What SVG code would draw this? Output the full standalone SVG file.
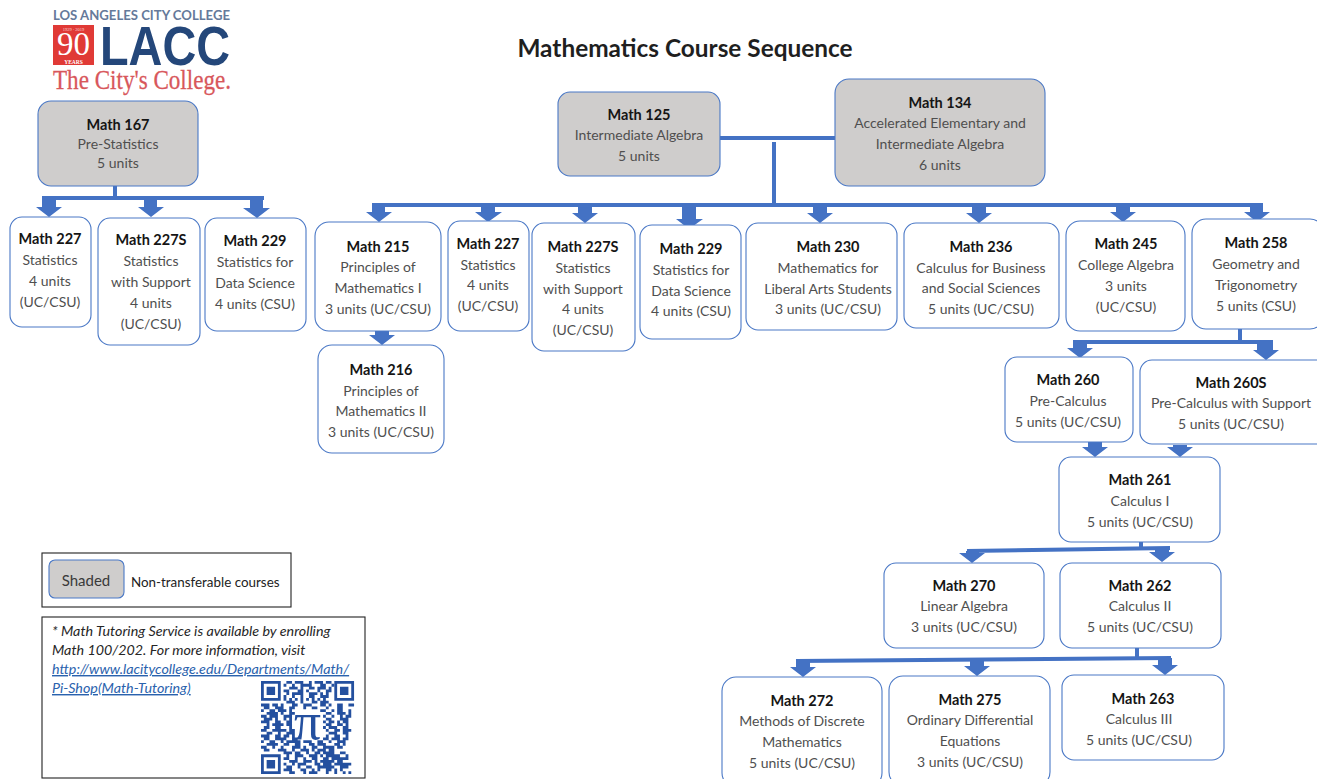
<svg xmlns="http://www.w3.org/2000/svg" width="1317" height="779" viewBox="0 0 1317 779">
<style>
text{font-family:Lato,"Open Sans","Liberation Sans",sans-serif}
.n rect{fill:#fff;stroke:#4a78c6;stroke-width:1.1}
.g rect{fill:#cfcdcc}
.n text,.c{text-anchor:middle}
.t{font-size:14.5px;font-weight:700;fill:#151515}
.d{font-size:14px;fill:#4f4f4f}
.cn path{fill:#4472c4}
.ln{fill:none;stroke:#4472c4}
.box{fill:#fff;stroke:#222;stroke-width:1.1}
.note{font-size:14.3px;font-style:italic;fill:#262626}
.link{fill:#2a62ad;text-decoration:underline}
</style>
<rect width="1317" height="779" fill="#fff"/>
<text class="c" x="685" y="57" font-size="24.4" font-weight="700" fill="#1f1f1f">Mathematics Course Sequence</text>
<g id="logo">
<text x="53" y="20" font-size="12.5" font-weight="700" fill="#65799a" textLength="177" lengthAdjust="spacingAndGlyphs">LOS ANGELES CITY COLLEGE</text>
<rect x="53" y="25" width="41" height="40" fill="#e03a36"/>
<text class="c" x="73.500" y="31" font-size="4.500" fill="#fbdcd8" style="font-family:'Liberation Serif',serif">1929 · 2019</text>
<text class="c" x="73.500" y="55" font-size="33" fill="#fff" style="font-family:'Liberation Serif',serif">90</text>
<text class="c" x="73.500" y="63.500" font-size="5.500" font-weight="700" fill="#fff" style="font-family:'Liberation Serif',serif">YEARS</text>
<text x="100" y="65" font-size="56" font-weight="700" fill="#24477a" style="font-family:'Liberation Sans',sans-serif" textLength="130" lengthAdjust="spacingAndGlyphs">LACC</text>
<text x="53" y="89" font-size="28" fill="#d8575b" stroke="#d8575b" stroke-width=".3" style="font-family:'Liberation Serif',serif" textLength="178" lengthAdjust="spacingAndGlyphs">The City's College.</text>
</g>
<g id="connectors" class="cn">
<path class="ln" stroke-width="4" d="M115 186V198M42 198H264"/>
<path d="M42 198h14v9h6l-13 10-13-10h6z"/>
<path d="M144 198h13v9h7l-13 10-13-10h6z"/>
<path d="M250 198h13v10h7l-13 10-14-10h7z"/>
<path class="ln" stroke-width="4" d="M720 138H835M774 142V205M372 205H1263"/>
<path d="M372 205h13v7h7l-13 10-13-10h6z"/>
<path d="M481 205h14v7h7l-14 10-13-10h6z"/>
<path d="M578 205h14v8h6l-13 10-13-10h6z"/>
<path d="M682 205h14v14h7l-14 10-13-10h6z"/>
<path d="M813 205h14v8h6l-13 10-13-10h6z"/>
<path d="M972 205h14v8h6l-13 10-13-10h6z"/>
<path d="M1116 205h14v7h6l-13 10-13-10h6z"/>
<path d="M1250 205h13v7h7l-13 10-13-10h6z"/>
<path d="M375 331h14v4h6l-13 10-13-10h6z"/>
<path class="ln" stroke-width="4" d="M1240 329V342M1073 342H1273"/>
<path d="M1073 341h14v7h6l-13 10-13-10h6z"/>
<path d="M1257 340h16v10h6l-13 10-13-10h4z"/>
<path d="M1088 442h14v5h6l-13 10-13-10h6z"/>
<path d="M1173 445h14v2h6l-13 10-13-10h6z"/>
<path class="ln" stroke-width="4" d="M1141 542V549M967 551L1170 548"/>
<path d="M966 551h13v2h6l-13 10-13-10h7z"/>
<path d="M1155 548h14v4h6l-13 10-13-10h6z"/>
<path class="ln" stroke-width="4" d="M1137 648V660M796 661L1171 658"/>
<path d="M796 660h14v7h6l-13 10-13-10h6z"/>
<path d="M970 659h14v7h6l-13 10-13-10h6z"/>
<path d="M1158 658h14v7h6l-13 10-13-10h6z"/>
</g>
<g id="m167" class="n g"><rect x="38" y="101" width="160" height="85" rx="13"/><text class="t" x="118" y="130">Math 167</text><text class="d" x="118" y="149">Pre-Statistics</text><text class="d" x="118" y="168">5 units</text></g>
<g id="m227a" class="n"><rect x="10" y="217" width="81" height="110" rx="12"/><text class="t" x="50" y="244">Math 227</text><text class="d" x="50" y="265">Statistics</text><text class="d" x="50" y="286">4 units</text><text class="d" x="50" y="307">(UC/CSU)</text></g>
<g id="m227sa" class="n"><rect x="98" y="218" width="102" height="127" rx="12"/><text class="t" x="151" y="245">Math 227S</text><text class="d" x="151" y="266">Statistics</text><text class="d" x="151" y="287">with Support</text><text class="d" x="151" y="308">4 units</text><text class="d" x="151" y="329">(UC/CSU)</text></g>
<g id="m229a" class="n"><rect x="205" y="218" width="101" height="113" rx="12"/><text class="t" x="255" y="246">Math 229</text><text class="d" x="255" y="267">Statistics for</text><text class="d" x="255" y="288">Data Science</text><text class="d" x="255" y="309">4 units (CSU)</text></g>
<g id="m125" class="n g"><rect x="558" y="92" width="162" height="84" rx="12"/><text class="t" x="639" y="120">Math 125</text><text class="d" x="639" y="140">Intermediate Algebra</text><text class="d" x="639" y="161">5 units</text></g>
<g id="m134" class="n g"><rect x="835" y="79" width="210" height="107" rx="14"/><text class="t" x="940" y="108">Math 134</text><text class="d" x="940" y="128">Accelerated Elementary and</text><text class="d" x="940" y="149">Intermediate Algebra</text><text class="d" x="940" y="170">6 units</text></g>
<g id="m215" class="n"><rect x="315" y="222" width="126" height="109" rx="14"/><text class="t" x="378" y="252">Math 215</text><text class="d" x="378" y="272">Principles of</text><text class="d" x="378" y="293">Mathematics I</text><text class="d" x="378" y="314">3 units (UC/CSU)</text></g>
<g id="m216" class="n"><rect x="318" y="345" width="126" height="108" rx="14"/><text class="t" x="381" y="375">Math 216</text><text class="d" x="381" y="396">Principles of</text><text class="d" x="381" y="416">Mathematics II</text><text class="d" x="381" y="437">3 units (UC/CSU)</text></g>
<g id="m227" class="n"><rect x="448" y="221" width="81" height="110" rx="12"/><text class="t" x="488" y="249">Math 227</text><text class="d" x="488" y="270">Statistics</text><text class="d" x="488" y="290">4 units</text><text class="d" x="488" y="311">(UC/CSU)</text></g>
<g id="m227s" class="n"><rect x="532" y="223" width="103" height="128" rx="12"/><text class="t" x="583" y="252">Math 227S</text><text class="d" x="583" y="273">Statistics</text><text class="d" x="583" y="294">with Support</text><text class="d" x="583" y="314">4 units</text><text class="d" x="583" y="335">(UC/CSU)</text></g>
<g id="m229" class="n"><rect x="640" y="225" width="101" height="114" rx="12"/><text class="t" x="691" y="254">Math 229</text><text class="d" x="691" y="275">Statistics for</text><text class="d" x="691" y="296">Data Science</text><text class="d" x="691" y="316">4 units (CSU)</text></g>
<g id="m230" class="n"><rect x="746" y="223" width="151" height="107" rx="12"/><text class="t" x="828" y="252">Math 230</text><text class="d" x="828" y="273">Mathematics for</text><text class="d" x="828" y="294">Liberal Arts Students</text><text class="d" x="828" y="314">3 units (UC/CSU)</text></g>
<g id="m236" class="n"><rect x="904" y="223" width="155" height="105" rx="12"/><text class="t" x="981" y="252">Math 236</text><text class="d" x="981" y="273">Calculus for Business</text><text class="d" x="981" y="293">and Social Sciences</text><text class="d" x="981" y="314">5 units (UC/CSU)</text></g>
<g id="m245" class="n"><rect x="1066" y="221" width="119" height="110" rx="14"/><text class="t" x="1126" y="249">Math 245</text><text class="d" x="1126" y="270">College Algebra</text><text class="d" x="1126" y="291">3 units</text><text class="d" x="1126" y="312">(UC/CSU)</text></g>
<g id="m258" class="n"><rect x="1192" y="219" width="132" height="110" rx="14"/><text class="t" x="1256" y="248">Math 258</text><text class="d" x="1256" y="269">Geometry and</text><text class="d" x="1256" y="290">Trigonometry</text><text class="d" x="1256" y="311">5 units (CSU)</text></g>
<g id="m260" class="n"><rect x="1005" y="357" width="128" height="85" rx="12"/><text class="t" x="1068" y="385">Math 260</text><text class="d" x="1068" y="406">Pre-Calculus</text><text class="d" x="1068" y="427">5 units (UC/CSU)</text></g>
<g id="m260s" class="n"><rect x="1140" y="360" width="190" height="84" rx="12"/><text class="t" x="1231" y="388">Math 260S</text><text class="d" x="1231" y="408">Pre-Calculus with Support</text><text class="d" x="1231" y="429">5 units (UC/CSU)</text></g>
<g id="m261" class="n"><rect x="1059" y="457" width="161" height="85" rx="12"/><text class="t" x="1140" y="485">Math 261</text><text class="d" x="1140" y="506">Calculus I</text><text class="d" x="1140" y="527">5 units (UC/CSU)</text></g>
<g id="m270" class="n"><rect x="884" y="563" width="160" height="85" rx="12"/><text class="t" x="964" y="591">Math 270</text><text class="d" x="964" y="611">Linear Algebra</text><text class="d" x="964" y="632">3 units (UC/CSU)</text></g>
<g id="m262" class="n"><rect x="1060" y="563" width="161" height="85" rx="12"/><text class="t" x="1140" y="591">Math 262</text><text class="d" x="1140" y="611">Calculus II</text><text class="d" x="1140" y="632">5 units (UC/CSU)</text></g>
<g id="m272" class="n"><rect x="722" y="677" width="160" height="110" rx="14"/><text class="t" x="802" y="706">Math 272</text><text class="d" x="802" y="726">Methods of Discrete</text><text class="d" x="802" y="747">Mathematics</text><text class="d" x="802" y="768">5 units (UC/CSU)</text></g>
<g id="m275" class="n"><rect x="889" y="676" width="161" height="110" rx="14"/><text class="t" x="970" y="705">Math 275</text><text class="d" x="970" y="725">Ordinary Differential</text><text class="d" x="970" y="746">Equations</text><text class="d" x="970" y="767">3 units (UC/CSU)</text></g>
<g id="m263" class="n"><rect x="1062" y="675" width="162" height="85" rx="12"/><text class="t" x="1143" y="704">Math 263</text><text class="d" x="1139" y="724">Calculus III</text><text class="d" x="1139" y="745">5 units (UC/CSU)</text></g>
<g id="legend">
<rect class="box" x="42" y="553" width="249" height="54"/>
<g class="n g"><rect x="49" y="560" width="75" height="38" rx="6"/><text x="86" y="586" font-size="15" fill="#3a3a3a">Shaded</text></g>
<text x="131" y="587" font-size="13.400" fill="#222">Non-transferable courses</text>
</g>
<g id="note">
<rect class="box" x="42" y="617" width="323" height="161"/>
<text class="note" x="52" y="636">* Math Tutoring Service is available by enrolling</text>
<text class="note" x="52" y="655">Math 100/202. For more information, visit</text>
<text class="note link" x="52" y="674">http://www.lacitycollege.edu/Departments/Math/</text>
<text class="note link" x="52" y="693">Pi-Shop(Math-Tutoring)</text>
</g>
<g id="qr" transform="translate(261 681) scale(2.82)">
<path fill="#24509f" fill-rule="evenodd" d="M0 0h7v7h-7zM1 1v5h5v-5zM2 2h3v3h-3zM26 0h7v7h-7zM27 1v5h5v-5zM28 2h3v3h-3zM0 26h7v7h-7zM1 27v5h5v-5zM2 28h3v3h-3z"/>
<path fill="none" stroke="#24509f" stroke-width="1" d="M9 .5h2m1 0h3m2 0h1m1 0h3m1 0h2M8 1.500h1m2 0h1m2 0h4m3 0h2m2 0h1M10 2.500h3m1 0h1m2 0h2m1 0h3m1 0h1M8 3.500h2m3 0h2m1 0h1m3 0h1m2 0h2M9 4.500h1m1 0h4m2 0h3m1 0h1m1 0h1M8 5.500h1m2 0h1m2 0h1m2 0h2m2 0h3M8 6.500h1m1 0h1m1 0h1m1 0h1m1 0h1m1 0h1m1 0h1m1 0h1M9 7.500h3m2 0h1m3 0h2m1 0h3M0 8.500h3m1 0h2m1 0h1m3 0h2m2 0h3m3 0h2m1 0h1m2 0h2m2 0h2M1 9.500h2m2 0h3m2 0h2m3 0h1m2 0h2m3 0h1m3 0h2M0 10.500h1m2 0h2m1 0h3m1 0h1m10 0h2m2 0h1m1 0h2m2 0h1M2 11.500h4m1 0h1m2 0h2m11 0h2m2 0h3m1 0h1M0 12.500h2m1 0h3m2 0h3m11 0h1m2 0h1m2 0h1m1 0h2M1 13.500h3m1 0h1m2 0h1m1 0h1m12 0h2m3 0h3M0 14.500h3m2 0h2m2 0h2m11 0h1m1 0h2m1 0h1m1 0h2M2 15.500h1m1 0h4m1 0h2m12 0h2m2 0h2m1 0h1M1 16.500h2m2 0h2m3 0h1m11 0h1m1 0h3m2 0h2M0 17.500h2m2 0h5m1 0h2m11 0h1m2 0h2m1 0h3M2 18.500h2m2 0h1m2 0h3m12 0h3m2 0h2M0 19.500h3m2 0h2m1 0h2m1 0h1m11 0h1m2 0h2m2 0h1M1 20.500h2m2 0h4m2 0h2m9 0h2m1 0h3m1 0h2M0 21.500h1m2 0h2m2 0h1m1 0h5m1 0h3m2 0h2m2 0h1m2 0h3M2 22.500h4m2 0h2m2 0h2m3 0h2m1 0h3m3 0h2m1 0h1M0 23.500h2m2 0h1m2 0h1m3 0h3m1 0h1m2 0h2m2 0h4m1 0h2M1 24.500h2m3 0h3m2 0h1m2 0h3m1 0h1m1 0h3m1 0h2M8 25.500h3m1 0h2m2 0h1m2 0h2m1 0h4m2 0h2M9 26.500h1m2 0h3m2 0h3m1 0h1m1 0h5m2 0h1M8 27.500h2m2 0h1m2 0h1m2 0h2m2 0h2m1 0h6M10 28.500h3m2 0h3m1 0h1m1 0h5m1 0h2M8 29.500h1m2 0h1m1 0h3m3 0h2m1 0h3m1 0h6M9 30.500h2m2 0h1m2 0h2m2 0h6m2 0h3M8 31.500h3m3 0h2m2 0h1m1 0h1m2 0h2m1 0h1m1 0h1M10 32.500h2m3 0h1m1 0h3m3 0h1m2 0h1m2 0h1m1 0h1"/>
<text class="c" x="16.500" y="20.500" font-size="19" fill="#24509f" style="font-family:'Liberation Serif',serif">π</text>
</g>
</svg>
